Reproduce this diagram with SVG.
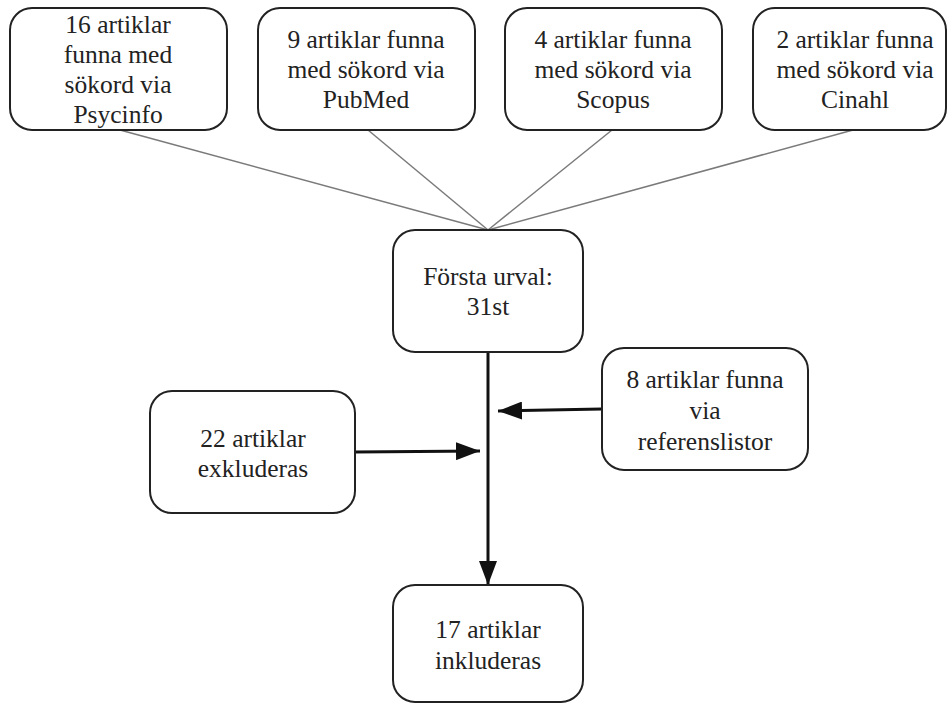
<svg xmlns="http://www.w3.org/2000/svg" width="948" height="704" viewBox="0 0 948 704">
<defs>
<marker id="ah" markerWidth="8" markerHeight="6" refX="8" refY="3" orient="auto" markerUnits="strokeWidth">
<path d="M0,0 L8,3 L0,6 Z" fill="#111"/>
</marker>
</defs>
<rect width="948" height="704" fill="#fff"/>
<g id="connectors" fill="none">
<g stroke="#7a7a7a" stroke-width="1.5">
<line x1="120" y1="130" x2="488" y2="230"/>
<line x1="368" y1="130" x2="488" y2="230"/>
<line x1="612" y1="130" x2="488" y2="230"/>
<line x1="853" y1="130" x2="488" y2="230"/>
</g>
<g stroke="#111" stroke-width="3">
<line x1="488" y1="352" x2="488" y2="585" marker-end="url(#ah)"/>
<line x1="602" y1="409" x2="498" y2="411" marker-end="url(#ah)"/>
<line x1="355" y1="452" x2="480" y2="451" marker-end="url(#ah)"/>
</g>
</g>
<g fill="#fff" stroke="#222" stroke-width="2">
<rect id="box-psycinfo" x="10" y="8" width="217" height="122" rx="22"/>
<rect id="box-pubmed" x="258" y="8" width="217" height="122" rx="22"/>
<rect id="box-scopus" x="505" y="8" width="217" height="122" rx="22"/>
<rect id="box-cinahl" x="753" y="8" width="193" height="122" rx="22"/>
<rect id="box-forsta" x="393" y="230" width="190" height="122" rx="22"/>
<rect id="box-referens" x="602" y="348" width="206" height="122" rx="22"/>
<rect id="box-exkluderas" x="150" y="391" width="205" height="122" rx="22"/>
<rect id="box-inkluderas" x="393" y="585" width="190" height="117" rx="22"/>
</g>
<g font-family="Liberation Serif" font-size="25.5" fill="#222" text-anchor="middle">
<g id="psycinfo">
<text x="118" y="33">16 artiklar</text>
<text x="118" y="63">funna med</text>
<text x="118" y="93">sökord via</text>
<text x="118" y="123">Psycinfo</text>
</g>
<g id="pubmed">
<text x="366" y="48">9 artiklar funna</text>
<text x="366" y="78">med sökord via</text>
<text x="366" y="108">PubMed</text>
</g>
<g id="scopus">
<text x="613" y="48">4 artiklar funna</text>
<text x="613" y="78">med sökord via</text>
<text x="613" y="108">Scopus</text>
</g>
<g id="cinahl">
<text x="855" y="48">2 artiklar funna</text>
<text x="855" y="78">med sökord via</text>
<text x="855" y="108">Cinahl</text>
</g>
<g id="forsta">
<text x="488" y="285">Första urval:</text>
<text x="488" y="315">31st</text>
</g>
<g id="referens">
<text x="705" y="388">8 artiklar funna</text>
<text x="705" y="419">via</text>
<text x="705" y="450">referenslistor</text>
</g>
<g id="exkluderas">
<text x="253" y="447">22 artiklar</text>
<text x="253" y="477">exkluderas</text>
</g>
<g id="inkluderas">
<text x="488" y="638">17 artiklar</text>
<text x="488" y="669">inkluderas</text>
</g>
</g>
</svg>
